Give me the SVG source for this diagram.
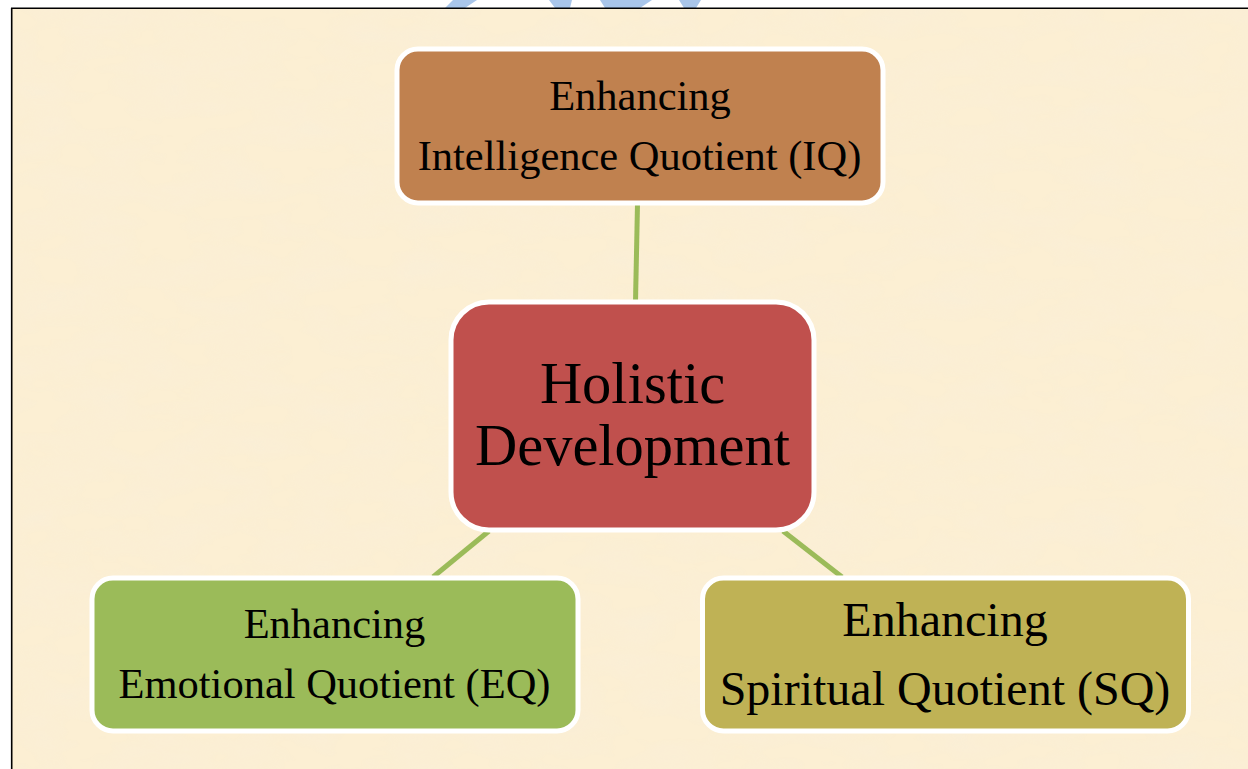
<svg xmlns="http://www.w3.org/2000/svg" width="1248" height="769" viewBox="0 0 1248 769">
  <style>
    .box { stroke: #FFFFFF; stroke-width: 5; }
    .lbl { font-family: "Liberation Serif", "Times New Roman", serif; fill: #000000; text-anchor: middle; }
    .conn { stroke: #9BBB59; stroke-width: 5; fill: none; }
    .wm { fill: #A9C6EA; }
  </style>
  <defs>
    <filter id="parch" x="0" y="0" width="100%" height="100%">
      <feTurbulence type="fractalNoise" baseFrequency="0.015 0.035" numOctaves="3" seed="7" result="n"/>
      <feColorMatrix in="n" type="matrix" values="0 0 0 0 0.95  0 0 0 0 0.86  0 0 0 0 0.68  0 0 0 1.6 -0.62" result="spots"/>
      <feComposite in="spots" in2="SourceGraphic" operator="in" result="sp"/>
      <feMerge><feMergeNode in="SourceGraphic"/><feMergeNode in="sp"/></feMerge>
    </filter>
  </defs>

  <rect x="0" y="0" width="1248" height="769" fill="#FFFFFF"/>
  <!-- watermark fragments above the frame -->
  <polygon class="wm" points="453,0 477,0 465,8 445,8"/>
  <polygon class="wm" points="549,0 572,0 570,8 555,8"/>
  <polygon class="wm" points="600,0 652,0 640,8 605,8"/>
  <polygon class="wm" points="679,0 701,0 696,8 684,8"/>

  <!-- parchment background -->
  <rect x="12" y="9" width="1236" height="760" fill="#FCEFD3" filter="url(#parch)"/>
  <!-- frame lines -->
  <line x1="11" y1="8.3" x2="1248" y2="8.3" stroke="#000000" stroke-width="1.6"/>
  <line x1="11.7" y1="8" x2="11.7" y2="769" stroke="#000000" stroke-width="1.6"/>

  <g id="connectors">
    <line class="conn" x1="637.5" y1="204" x2="635.5" y2="302"/>
    <line class="conn" x1="489" y1="531" x2="433" y2="577"/>
    <line class="conn" x1="783" y1="531" x2="842" y2="577"/>
  </g>

  <g id="node-iq">
    <rect class="box" x="397" y="49" width="486" height="154" rx="21" fill="#C0814F"/>
    <text class="lbl" x="640" y="110" font-size="42.5">Enhancing</text>
    <text class="lbl" x="639.5" y="170" font-size="42.5">Intelligence Quotient (IQ)</text>
  </g>

  <g id="node-center">
    <rect class="box" x="451" y="302" width="363" height="228" rx="38" fill="#C0504D"/>
    <text class="lbl" x="632.5" y="403" font-size="58.5">Holistic</text>
    <text class="lbl" x="632.5" y="465" font-size="58.5">Development</text>
  </g>

  <g id="node-eq">
    <rect class="box" x="92" y="578" width="486" height="153" rx="21" fill="#9BBB59"/>
    <text class="lbl" x="334.5" y="638" font-size="42.5">Enhancing</text>
    <text class="lbl" x="334.5" y="698" font-size="42.5">Emotional Quotient (EQ)</text>
  </g>

  <g id="node-sq">
    <rect class="box" x="702.5" y="578" width="486" height="153" rx="21" fill="#BFB255"/>
    <text class="lbl" x="945" y="636" font-size="48">Enhancing</text>
    <text class="lbl" x="945" y="705" font-size="48">Spiritual Quotient (SQ)</text>
  </g>
</svg>
